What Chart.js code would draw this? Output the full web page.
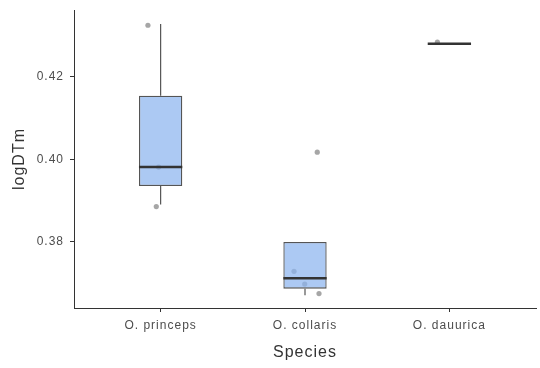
<!DOCTYPE html>
<html>
<head>
<meta charset="utf-8">
<script src="https://cdn.jsdelivr.net/npm/chart.js@4/dist/chart.umd.min.js"></script>
<style>
  html, body { margin:0; padding:0; background:#fff; }
  #wrap { width:540px; height:368px; }
</style>
</head>
<body>
<div id="wrap"><canvas id="chart"></canvas></div>
<script>
// logDTm by species: box summaries plus the individual observations
const species = ['O. princeps', 'O. collaris', 'O. dauurica'];
const whiskerLo = [0.3890, 0.3670, 0.4280];
const q1 = [0.3935, 0.3686, 0.4280];
const median = [0.3981, 0.3711, 0.4280];
const q3 = [0.4154, 0.3799, 0.4280];
const whiskerHi = [0.4328, 0.3799, 0.4280];

// observations (x = species position with jitter)
const obsX = [0.912, 0.986, 0.970, 2.085, 1.924, 1.998, 2.097, 2.917];
const obsY = [0.4325, 0.3981, 0.3885, 0.4017, 0.3728, 0.3697, 0.3674, 0.4284];

const yTicks = [0.38, 0.40, 0.42];
const yMin = 0.3639, yMax = 0.4362;

const FONT = "'Liberation Sans', Arial, sans-serif";
const AXIS = '#333333';
const TEXT = '#4d4d4d';

// slightly looser text tracking (the canvas state is reset on resize)
const spacing = {
  id: 'spacing',
  beforeUpdate(chart){ chart.ctx.letterSpacing = '1px'; },
  beforeDraw(chart){ chart.ctx.letterSpacing = '1px'; }
};

// whiskers and medians drawn on top of the bar boxes
const boxExtras = {
  id: 'boxExtras',
  afterDatasetsDraw(chart){
    const { ctx, scales:{ x, y } } = chart;
    const bars = chart.getDatasetMeta(1).data;
    ctx.save();
    species.forEach((s, i) => {
      const px = x.getPixelForValue(i + 1);
      ctx.strokeStyle = '#555555';
      ctx.lineWidth = 1.2;
      ctx.beginPath();
      ctx.moveTo(px, y.getPixelForValue(q3[i]));
      ctx.lineTo(px, y.getPixelForValue(whiskerHi[i]));
      ctx.moveTo(px, y.getPixelForValue(q1[i]));
      ctx.lineTo(px, y.getPixelForValue(whiskerLo[i]));
      ctx.stroke();
      const bar = bars[i];
      const half = bar.width / 2;
      const my = y.getPixelForValue(median[i]);
      ctx.strokeStyle = '#333333';
      ctx.lineWidth = 2.4;
      ctx.beginPath();
      ctx.moveTo(bar.x - half, my);
      ctx.lineTo(bar.x + half, my);
      ctx.stroke();
    });
    ctx.restore();
  }
};

new Chart(document.getElementById('chart'), {
  type: 'bar',
  data: {
    datasets: [
      {
        type: 'scatter',
        data: obsX.map((v, i) => ({ x: v, y: obsY[i] })),
        pointRadius: 2.6,
        pointBackgroundColor: 'rgba(150,150,150,0.85)',
        pointBorderWidth: 0,
        order: 2
      },
      {
        type: 'bar',
        data: species.map((s, i) => ({ x: i + 1, y: [q1[i], q3[i]] })),
        backgroundColor: 'rgba(140,180,238,0.72)',
        borderColor: '#555555',
        borderWidth: 1.3,
        borderSkipped: false,
        categoryPercentage: 1,
        barPercentage: 0.3,
        order: 1
      }
    ]
  },
  options: {
    responsive: true,
    maintainAspectRatio: false,
    animation: false,
    layout: { padding: { top: 10, right: 2, left: 0, bottom: 0 } },
    plugins: { legend: { display: false }, tooltip: { enabled: false } },
    scales: {
      x: {
        type: 'linear',
        min: 0.4,
        max: 3.6,
        offset: false,
        afterBuildTicks: s => { s.ticks = species.map((n, i) => ({ value: i + 1 })); },
        afterFit: s => { s.height = 60; s.paddingLeft = 0; s.paddingRight = 0; },
        ticks: {
          color: TEXT,
          font: { family: FONT, size: 12 },
          padding: 6,
          callback: v => species[v - 1]
        },
        grid: { display: true, offset: false, drawOnChartArea: false, drawTicks: true, tickLength: 4, color: AXIS },
        border: { display: true, color: AXIS, width: 1 },
        title: {
          display: true,
          text: 'Species',
          color: '#333333',
          font: { family: FONT, size: 16 },
          padding: { top: 6, bottom: 6 }
        }
      },
      y: {
        min: yMin,
        max: yMax,
        afterBuildTicks: s => { s.ticks = yTicks.map(v => ({ value: v })); },
        afterFit: s => { s.width = 74; s.paddingTop = 0; s.paddingBottom = 0; },
        ticks: {
          color: TEXT,
          font: { family: FONT, size: 12 },
          padding: 6,
          callback: v => v.toFixed(2)
        },
        grid: { display: true, drawOnChartArea: false, drawTicks: true, tickLength: 4, color: AXIS },
        border: { display: true, color: AXIS, width: 1 },
        title: {
          display: true,
          text: 'logDTm',
          color: '#333333',
          font: { family: FONT, size: 16 },
          padding: { top: 10, bottom: 10 }
        }
      }
    }
  },
  plugins: [spacing, boxExtras]
});
</script>
</body>
</html>
